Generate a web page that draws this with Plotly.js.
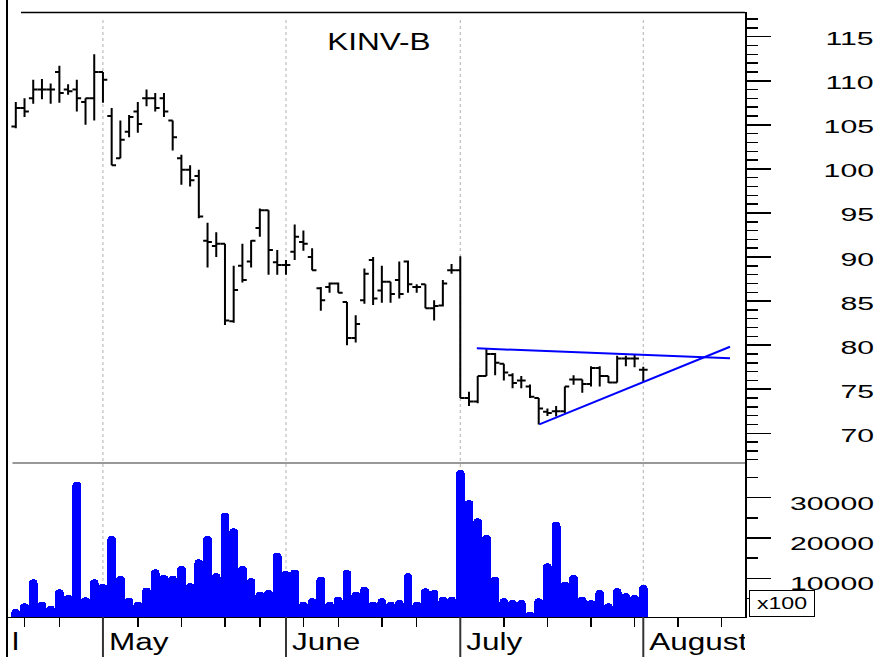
<!DOCTYPE html>
<html>
<head>
<meta charset="utf-8">
<script src="https://cdn.plot.ly/plotly-3.0.1.min.js"></script>
<style>
html,body{margin:0;padding:0;background:#ffffff;}
#chart{width:882px;height:657px;}
</style>
</head>
<body>
<div id="chart"></div>
<script>
// ---------------- DATA ----------------
const opens  = [104.8,106.9,108.0,109.0,109.0,111.0,109.0,109.0,107.6,108.0,
                111.0,106.0,101.2,104.2,106.5,108.0,108.0,108.0,105.5,101.2,
                99.9,99.2,91.85,91.25,91.5,82.7,89.0,89.5,93.3,95.3,
                89.4,89.1,90.6,91.7,90.0,86.45,86.6,87.0,84.9,80.8,
                85.1,89.65,86.2,87.2,87.4,89.5,86.6,86.9,84.2,84.5,
                88.5,88.5,74.0,73.6,76.5,79.0,77.9,76.6,76.0,75.3,
                74.0,72.45,72.5,72.5,76.1,76.1,75.6,77.4,76.5,75.75,
                78.5,78.5,77.2];
const highs  = [107.6,108.0,110.1,110.2,109.7,111.7,109.6,110.1,108.0,113.0,
                111.0,106.9,105.5,106.1,107.6,109.0,108.6,108.6,105.5,101.6,
                100.4,99.9,93.9,92.8,91.5,89.0,91.5,91.9,95.5,95.3,
                90.8,89.65,93.7,93.0,91.0,86.6,87.1,87.1,84.9,83.4,
                88.7,90.0,89.0,87.2,89.5,89.6,86.9,86.9,85.1,87.4,
                89.2,90.1,74.7,76.5,79.65,79.1,77.9,76.8,76.5,75.55,
                74.0,72.8,73.1,75.3,76.6,76.1,77.6,77.6,76.5,78.8,
                78.8,79.0,77.55];
const lows   = [104.6,105.9,107.4,107.9,107.4,107.5,108.4,106.5,105.0,105.5,
                107.5,100.4,101.2,103.6,104.1,107.1,106.5,105.9,102.1,98.2,
                98.0,94.4,88.8,90.0,82.3,82.55,87.1,88.8,92.3,88.0,
                88.0,88.0,89.65,90.7,88.5,83.9,85.95,85.95,80.0,80.3,
                84.7,84.55,84.8,84.8,85.3,85.95,85.95,84.2,82.8,84.4,
                88.1,74.0,73.1,73.4,76.5,76.6,76.0,75.1,75.1,74.0,
                71.0,71.95,71.9,72.3,75.5,74.6,75.3,75.3,75.7,75.75,
                77.6,77.5,75.85];
const closes = [106.9,106.5,109.0,109.0,109.0,108.6,108.8,108.0,108.0,111.0,
                110.1,100.4,103.3,105.9,105.1,108.0,106.9,106.5,103.6,99.9,
                98.7,94.6,91.7,91.5,82.8,86.25,87.4,91.85,95.3,90.8,
                89.1,89.1,92.3,91.5,88.5,85.1,87.0,85.95,80.8,82.4,
                88.1,85.3,87.2,85.8,85.8,86.9,86.6,84.2,84.45,87.0,
                88.5,74.0,73.6,76.5,79.0,78.0,76.9,75.7,76.0,74.15,
                72.8,72.3,72.5,75.3,76.1,75.6,77.4,76.5,75.75,78.5,
                78.5,78.5,77.2];
// volume in units of x100
const volumes = [2380,3800,9750,4190,3200,7270,5860,33960,5280,9750,
                 8580,20490,10570,5190,4190,7670,12230,10820,10640,13050,
                 8760,14710,20490,11240,26270,22400,13050,10000,6670,7100,
                 16350,11810,12180,4190,5040,10400,4190,5430,12060,6670,
                 7910,4190,5040,4190,4610,11240,4190,7520,7100,5430,
                 5430,36870,29420,24880,20740,10400,5040,4610,4610,1710,
                 5040,13720,24040,9150,10820,5430,4610,7100,3800,7520,
                 6280,5860,8340];

// trading-day positions of month starts and weekly ticks
const monthNames  = ['May','June','July','August'];
const monthStarts = [10, 31, 51, 72];
const weekTicks   = [1,5,14,19,24,28,33,37,42,46,56,61,66,71,76,81];
const leftEdgeLabel = 'l';   // what remains visible of the clipped April label

const priceTicks       = [70,75,80,85,90,95,100,105,110,115];
const priceTickLabels  = ['70','75','80','85','90','95','100','105','110','115'];
const volumeTicks      = [10000,20000,30000];
const volumeTickLabels = ['10000','20000','30000'];

// hand-drawn trend lines (trading-day index, price)
const resistanceX = [52.9, 81.95];
const resistanceY = [79.64, 78.51];
const supportX    = [60.07, 81.95];
const supportY    = [71.02, 79.82];

// ---------------- LAYOUT HELPERS ----------------
const PL = 7, PR = 745, PT = 12, PB = 657;
const px2x = px => (px - PL) / (PR - PL);
const px2y = py => (PB - py) / (PB - PT);
const FONT = 'Liberation Sans, Arial, Helvetica, sans-serif';

const days = closes.map((_, i) => i);

const traces = [
  {
    type: 'bar', x: days, y: volumes, xaxis: 'x', yaxis: 'y2',
    width: 1, marker: {color: '#0000ff', line: {width: 0}, cornerradius: '50%'},
    hoverinfo: 'skip'
  },
  {
    type: 'ohlc', x: days, open: opens, high: highs, low: lows, close: closes,
    xaxis: 'x', yaxis: 'y', tickwidth: 0.5,
    line: {width: 2},
    increasing: {line: {color: '#000000', width: 2}},
    decreasing: {line: {color: '#000000', width: 2}},
    hoverinfo: 'skip'
  },
  {
    type: 'scatter', mode: 'lines', x: resistanceX, y: resistanceY,
    xaxis: 'x', yaxis: 'y', line: {color: '#0000ff', width: 2}, hoverinfo: 'skip'
  },
  {
    type: 'scatter', mode: 'lines', x: supportX, y: supportY,
    xaxis: 'x', yaxis: 'y', line: {color: '#0000ff', width: 2}, hoverinfo: 'skip'
  },
  {
    type: 'scatter', mode: 'text', x: monthStarts, y: monthStarts.map(() => 0.32),
    text: monthNames, textposition: 'middle right',
    textfont: {family: FONT, size: 23, color: '#000000'},
    xaxis: 'x', yaxis: 'y3', cliponaxis: true, hoverinfo: 'skip'
  }
];

const shapes = [];
monthStarts.forEach(m => {
  shapes.push({type: 'line', xref: 'x', yref: 'paper', x0: m, x1: m,
    y0: px2y(617), y1: px2y(18), layer: 'below',
    line: {color: '#b0b0b0', width: 1, dash: 'dot'}});
  shapes.push({type: 'line', xref: 'x', yref: 'paper', x0: m, x1: m,
    y0: 0, y1: px2y(617), layer: 'above',
    line: {color: '#333333', width: 2}});
});
// frame lines
shapes.push({type: 'line', xref: 'paper', yref: 'paper', x0: 0, x1: 0,
  y0: 0, y1: px2y(0), line: {color: '#000', width: 2}});
shapes.push({type: 'line', xref: 'paper', yref: 'paper', x0: px2x(21), x1: 1,
  y0: px2y(12.5), y1: px2y(12.5), line: {color: '#000', width: 1.5}});
shapes.push({type: 'line', xref: 'paper', yref: 'paper', x0: px2x(12.5), x1: 1,
  y0: px2y(463), y1: px2y(463), line: {color: '#333', width: 1}});

const annotations = [];
priceTicks.forEach((v, i) => annotations.push({
  xref: 'paper', yref: 'y', x: px2x(876), y: v, xanchor: 'right', yanchor: 'middle',
  yshift: -2.5, showarrow: false, text: priceTickLabels[i],
  font: {family: FONT, size: 18, color: '#000'}
}));
volumeTicks.forEach((v, i) => annotations.push({
  xref: 'paper', yref: 'y2', x: px2x(876), y: v, xanchor: 'right', yanchor: 'middle',
  yshift: -6, showarrow: false, text: volumeTickLabels[i],
  font: {family: FONT, size: 18, color: '#000'}
}));
annotations.push({
  xref: 'paper', yref: 'paper', x: px2x(782), y: px2y(603.5),
  xanchor: 'center', yanchor: 'middle', showarrow: false, text: 'x100',
  width: 62, height: 23, borderwidth: 1, bordercolor: '#000', borderpad: 1,
  bgcolor: '#ffffff', font: {family: FONT, size: 17, color: '#000'}
});
annotations.push({
  xref: 'paper', yref: 'paper', x: px2x(15.5), y: px2y(641.5),
  xanchor: 'center', yanchor: 'middle', showarrow: false, text: leftEdgeLabel,
  font: {family: FONT, size: 23, color: '#000'}
});

const axisCommon = {
  showgrid: false, zeroline: false, showline: true, linecolor: '#000',
  ticks: 'outside', tickcolor: '#000', showticklabels: false, fixedrange: true
};

const layout = {
  width: 882, height: 657,
  margin: {l: PL, r: 882 - PR, t: PT, b: 0, pad: 0},
  paper_bgcolor: '#ffffff', plot_bgcolor: 'rgba(0,0,0,0)',
  showlegend: false, bargap: 0,
  title: {text: 'KINV-B', xref: 'container', yref: 'container',
          x: 379 / 882, y: 1 - 41.5 / 657, xanchor: 'center', yanchor: 'middle',
          font: {family: FONT, size: 23, color: '#000'}},
  xaxis: {
    range: [-1.01, 83.67], anchor: 'y2', showgrid: false, zeroline: false,
    showline: true, linecolor: '#000', linewidth: 1,
    ticks: 'outside', tickvals: weekTicks, ticklen: 9, tickwidth: 1.5, tickcolor: '#000',
    showticklabels: false, rangeslider: {visible: false}, fixedrange: true
  },
  yaxis: Object.assign({}, axisCommon, {
    domain: [px2y(463), 1], range: [66.63, 117.8], side: 'right', anchor: 'x',
    linewidth: 2, ticklen: 24, tickwidth: 1.5, tick0: 0, dtick: 5,
    minor: {dtick: 1, tick0: 0, ticks: 'outside', ticklen: 11, tickwidth: 1.5, tickcolor: '#000', showgrid: false}
  }),
  yaxis2: Object.assign({}, axisCommon, {
    domain: [px2y(617), px2y(463)], range: [400, 38610], side: 'right', anchor: 'x',
    linewidth: 2, ticklen: 24, tickwidth: 1.5, tick0: 0, dtick: 10000,
    minor: {dtick: 5000, tick0: 0, ticks: 'outside', ticklen: 11, tickwidth: 1.5, tickcolor: '#000', showgrid: false}
  }),
  yaxis3: {domain: [0, px2y(617)], range: [0, 1], visible: false, anchor: 'x', fixedrange: true},
  shapes: shapes,
  annotations: annotations
};

function stretch(el, sx, origin, tx) {
  el.style.transformBox = 'fill-box';
  el.style.transformOrigin = origin;
  el.style.transform = (tx ? 'translateX(' + tx + 'px) ' : '') + 'scaleX(' + sx + ')';
}

Plotly.newPlot('chart', traces, layout, {staticPlot: true, displayModeBar: false}).then(gd => {
  gd.querySelectorAll('text.annotation-text').forEach(t => {
    const s = t.textContent;
    if (s === 'x100') stretch(t, 1.36, 'center');
    else if (s === leftEdgeLabel) stretch(t, 1.37, 'center');
    else stretch(t, 1.68, 'right center');
  });
  gd.querySelectorAll('.textpoint text').forEach(t => stretch(t, 1.37, 'left center', 6));
  const tt = gd.querySelector('.gtitle');
  if (tt) stretch(tt, 1.37, 'center');
});
</script>
</body>
</html>
